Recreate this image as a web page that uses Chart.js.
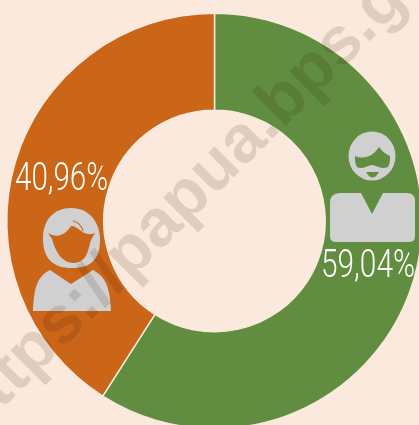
<!DOCTYPE html>
<html>
<head>
<meta charset="utf-8">
<style>
  html, body { margin: 0; padding: 0; width: 419px; height: 425px; overflow: hidden; background: #fce9dd; }
  #wrap { width: 419px; height: 425px; overflow: hidden; position: relative; }
  canvas { position: absolute; left: 0; top: 0; filter: blur(0.6px); }
</style>
</head>
<body>
<div id="wrap"><canvas id="myChart" width="429" height="441"></canvas></div>
<script src="https://cdn.jsdelivr.net/npm/chart.js@4/dist/chart.umd.min.js"></script>
<script>
const categories = ['Laki-laki', 'Perempuan'];
const values = [59.04, 40.96];
const valueLabels = ['59,04%', '40,96%'];
const colors = ['#608d3f', '#cb6518'];
const watermark = 'https://papua.bps.go.id';

const iconGrey = '#d0d0d0';

// percent labels, squeezed to the condensed look of the original
function drawLabel(ctx, text, x, y, width) {
  ctx.save();
  ctx.font = '300 38px Roboto, "Liberation Sans Narrow", sans-serif';
  ctx.fillStyle = '#fff';
  ctx.textBaseline = 'alphabetic';
  ctx.translate(x, y);
  ctx.scale(width / ctx.measureText(text).width, 1);
  ctx.fillText(text, 0, 0);
  ctx.restore();
}

function drawMan(ctx) {
  ctx.fillStyle = iconGrey;
  ctx.beginPath();
  ctx.ellipse(372, 156, 23.5, 24.5, 0, 0, Math.PI * 2);
  ctx.fill();
  // face between hair and beard
  ctx.fillStyle = colors[0];
  ctx.beginPath();
  ctx.moveTo(355, 156);
  ctx.bezierCurveTo(365, 160, 373, 156, 379, 147);
  ctx.bezierCurveTo(382, 151, 385, 154, 390, 156);
  ctx.bezierCurveTo(390, 160, 390, 164, 388, 167);
  ctx.bezierCurveTo(382, 170, 378, 166, 372, 165);
  ctx.bezierCurveTo(366, 166, 362, 170, 357, 167);
  ctx.bezierCurveTo(355, 164, 355, 160, 355, 156);
  ctx.fill();
  // mouth
  ctx.beginPath();
  ctx.moveTo(366, 172);
  ctx.lineTo(379, 172);
  ctx.quadraticCurveTo(372.5, 183, 366, 172);
  ctx.fill();
  // shoulders
  ctx.fillStyle = iconGrey;
  ctx.beginPath();
  ctx.moveTo(340, 193);
  ctx.lineTo(361, 193);
  ctx.lineTo(372, 214);
  ctx.lineTo(383, 193);
  ctx.lineTo(407, 193);
  ctx.quadraticCurveTo(415, 193, 415, 201);
  ctx.lineTo(415, 236);
  ctx.quadraticCurveTo(415, 242, 409, 242);
  ctx.lineTo(336, 242);
  ctx.quadraticCurveTo(330, 242, 330, 236);
  ctx.lineTo(330, 203);
  ctx.quadraticCurveTo(330, 193, 340, 193);
  ctx.fill();
}

function drawWoman(ctx) {
  ctx.fillStyle = iconGrey;
  ctx.beginPath();
  ctx.moveTo(71, 208);
  ctx.bezierCurveTo(90, 208, 100, 223, 100, 240);
  ctx.bezierCurveTo(100, 258, 92, 268, 72, 268);
  ctx.bezierCurveTo(52, 268, 43, 258, 43, 238);
  ctx.bezierCurveTo(43, 220, 54, 208, 71, 208);
  ctx.fill();
  // face
  ctx.fillStyle = colors[1];
  ctx.beginPath();
  ctx.moveTo(48, 233);
  ctx.bezierCurveTo(58, 239, 66, 234, 71, 226);
  ctx.bezierCurveTo(78, 225, 83, 238, 95, 233);
  ctx.bezierCurveTo(92, 238, 91, 240, 90, 243);
  ctx.bezierCurveTo(88, 254, 84, 263, 74, 263);
  ctx.bezierCurveTo(62, 263, 56, 252, 53, 242);
  ctx.bezierCurveTo(52, 238, 50, 236, 48, 233);
  ctx.fill();
  ctx.strokeStyle = colors[1];
  ctx.lineWidth = 1.2;
  ctx.beginPath();
  ctx.moveTo(73, 221);
  ctx.quadraticCurveTo(81, 223, 83, 231);
  ctx.stroke();
  // shoulders
  ctx.fillStyle = iconGrey;
  ctx.beginPath();
  ctx.moveTo(50, 270);
  ctx.lineTo(71, 284);
  ctx.lineTo(93, 270);
  ctx.bezierCurveTo(104, 276, 110, 284, 111, 311);
  ctx.lineTo(33, 311);
  ctx.bezierCurveTo(34, 286, 38, 276, 50, 270);
  ctx.fill();
}

const decorations = {
  id: 'decorations',
  afterDraw(chart) {
    const ctx = chart.ctx;
    ctx.save();
    drawMan(ctx);
    drawWoman(ctx);
    drawLabel(ctx, valueLabels[0], 321, 277, 94);
    drawLabel(ctx, valueLabels[1], 15, 190, 93);
    // site watermark across the whole picture
    ctx.translate(214, 214);
    ctx.rotate(-Math.PI / 4);
    ctx.font = 'bold 67px "Liberation Sans", Arial, sans-serif';
    ctx.fillStyle = 'rgba(50, 15, 0, 0.13)';
    ctx.textAlign = 'center';
    ctx.textBaseline = 'alphabetic';
    ctx.fillText(watermark, 38, -12);
    ctx.restore();
  }
};

new Chart(document.getElementById('myChart'), {
  type: 'doughnut',
  data: {
    labels: categories,
    datasets: [{
      data: values,
      backgroundColor: colors,
      borderColor: '#fce9dd',
      borderWidth: 1.5
    }]
  },
  options: {
    responsive: false,
    animation: false,
    cutout: '53.3%',
    layout: { padding: { left: 6, right: 6, top: 12.5, bottom: 11.5 } },
    plugins: { legend: { display: false }, tooltip: { enabled: false } }
  },
  plugins: [decorations]
});
</script>
</body>
</html>
